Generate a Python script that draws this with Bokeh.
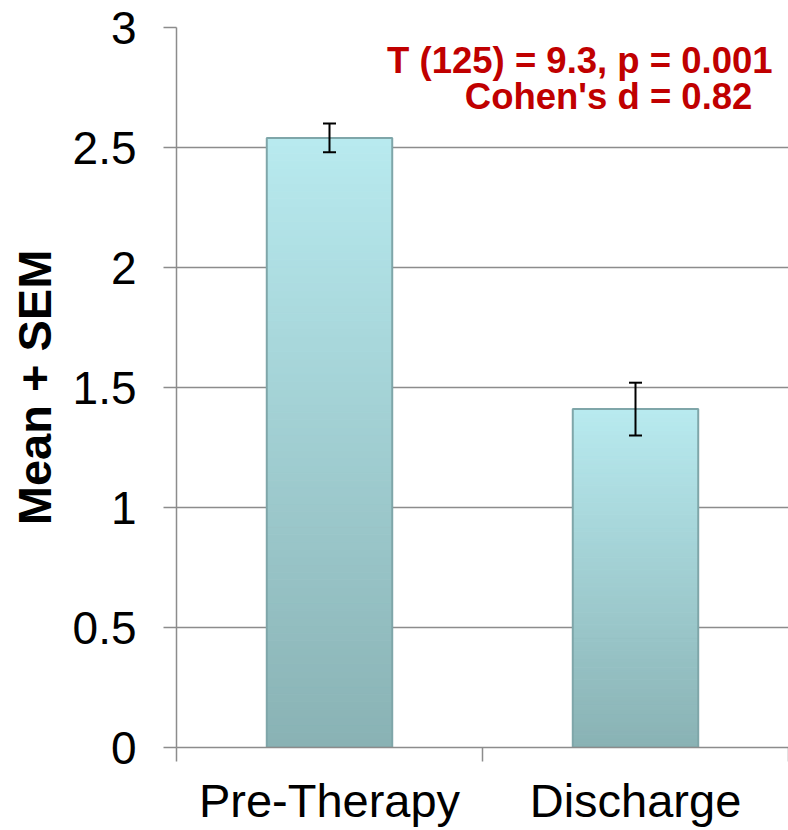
import numpy as np
from bokeh.plotting import figure
from bokeh.models import Range1d, FixedTicker, Whisker, TeeHead, ColumnDataSource, Label
from bokeh.embed import file_html
from bokeh.resources import INLINE

# ---- data ----
categories = ["Pre-Therapy", "Discharge"]
means = [2.54, 1.41]
sems = [0.06, 0.11]
y_ticks = [0.0, 0.5, 1.0, 1.5, 2.0, 2.5, 3.0]
y_tick_labels = ["0", "0.5", "1", "1.5", "2", "2.5", "3"]
stats_line1 = "T (125) = 9.3, p = 0.001"
stats_line2 = "Cohen's d = 0.82"

FONT = "Liberation Sans"
GRAY = "#8c8c8c"

n = len(categories)
xs = np.arange(n) + 0.5
bar_w = 0.41

p = figure(width=788, height=830,
           x_range=Range1d(0, n), y_range=Range1d(0, 3),
           output_backend="svg", toolbar_location=None,
           min_border_left=176, min_border_right=0,
           min_border_top=27, min_border_bottom=83)
p.outline_line_color = None
p.background_fill_color = "white"
p.border_fill_color = "white"

# ---- gradient bars (strips computed from the values) ----
N = 80
top_rgb = np.array([184, 234, 239])
bot_rgb = np.array([137, 178, 180])
sx, stop, sbot, scol = [], [], [], []
for i in range(n):
    for k in range(N):
        f = (k + 0.5) / N  # 0 bottom -> 1 top
        c = bot_rgb + (top_rgb - bot_rgb) * f
        sx.append(xs[i])
        sbot.append(means[i] * k / N)
        stop.append(means[i] * (k + 1) / N)
        scol.append("#%02x%02x%02x" % tuple(int(round(v)) for v in c))
p.vbar(x=sx, width=bar_w, top=stop, bottom=sbot, fill_color=scol,
       line_color=scol, line_width=1)
# bevel outline
p.vbar(x=xs, width=bar_w, top=means, bottom=0, fill_color=None,
       line_color="#7fa6a9", line_width=2)

# ---- error bars ----
src = ColumnDataSource(dict(base=xs,
                            upper=[m + s for m, s in zip(means, sems)],
                            lower=[m - s for m, s in zip(means, sems)]))
w = Whisker(base="base", upper="upper", lower="lower", source=src,
            line_color="black", line_width=2, level="annotation",
            upper_head=TeeHead(size=13, line_width=2, line_color="black"),
            lower_head=TeeHead(size=13, line_width=2, line_color="black"))
p.add_layout(w)

# ---- axes ----
p.yaxis.ticker = FixedTicker(ticks=y_ticks)
p.yaxis.major_label_overrides = dict(zip(y_ticks, y_tick_labels))
p.yaxis.major_label_text_font = FONT
p.yaxis.major_label_text_font_size = "46px"
p.yaxis.major_label_text_color = "black"
p.yaxis.axis_line_color = GRAY
p.yaxis.axis_line_width = 1.5
p.yaxis.major_tick_line_color = GRAY
p.yaxis.major_tick_line_width = 1.5
p.yaxis.major_tick_out = 13
p.yaxis.major_tick_in = 0
p.yaxis.minor_tick_line_color = None
p.yaxis.major_label_standoff = 27
p.yaxis.axis_label = "Mean + SEM"
p.yaxis.axis_label_text_font = FONT
p.yaxis.axis_label_text_font_style = "bold"
p.yaxis.axis_label_text_font_size = "47px"
p.yaxis.axis_label_text_color = "black"
p.yaxis.axis_label_standoff = 9

p.xaxis.ticker = FixedTicker(ticks=list(xs), minor_ticks=list(range(n + 1)))
p.xaxis.major_label_overrides = dict(zip([float(v) for v in xs], categories))
p.xaxis.major_label_text_font = FONT
p.xaxis.major_label_text_font_size = "47px"
p.xaxis.major_label_text_color = "black"
p.xaxis.axis_line_color = GRAY
p.xaxis.axis_line_width = 1.5
p.xaxis.major_tick_line_color = None
p.xaxis.minor_tick_line_color = GRAY
p.xaxis.minor_tick_line_width = 1.5
p.xaxis.minor_tick_out = 14
p.xaxis.minor_tick_in = 0
p.xaxis.major_label_standoff = 12

p.xgrid.visible = False
p.ygrid.grid_line_color = GRAY
p.ygrid.grid_line_width = 1.5

# ---- annotation ----
for txt, xx, yy in [(stats_line1, 1.948, 2.8625), (stats_line2, 1.882, 2.7125)]:
    p.add_layout(Label(x=xx, y=yy, text=txt, text_align="right",
                       text_baseline="alphabetic", text_font=FONT,
                       text_font_style="bold", text_font_size="36.5px",
                       text_color="#c00000"))

open("out.html", "w").write(file_html(p, INLINE))
